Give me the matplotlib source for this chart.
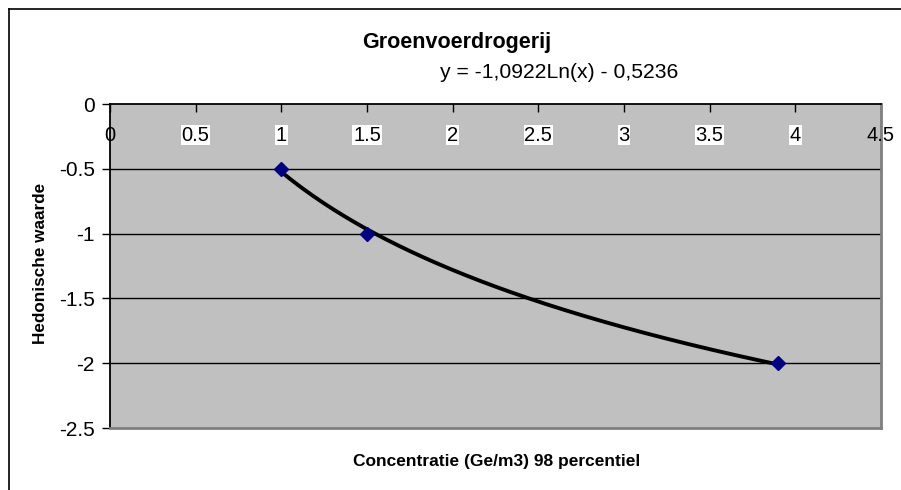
import numpy as np
import matplotlib
matplotlib.use("Agg")
import matplotlib.pyplot as plt
from matplotlib.lines import Line2D

plt.rcParams['font.family'] = ['Liberation Sans', 'DejaVu Sans']

# Data
conc = [1.0, 1.5, 3.9]
hedonic = [-0.5, -1.0, -2.0]
x_ticks = [0, 0.5, 1, 1.5, 2, 2.5, 3, 3.5, 4, 4.5]
x_tick_labels = ['0', '0.5', '1', '1.5', '2', '2.5', '3', '3.5', '4', '4.5']
y_ticks = [0, -0.5, -1, -1.5, -2, -2.5]
y_tick_labels = ['0', '-0.5', '-1', '-1.5', '-2', '-2.5']
title = 'Groenvoerdrogerij'
equation = 'y = -1,0922Ln(x) - 0,5236'
xlabel = 'Concentratie (Ge/m3) 98 percentiel'
ylabel = 'Hedonische waarde'

W, H = 901, 490
fig = plt.figure(figsize=(W / 100, H / 100), dpi=100)
fig.patch.set_facecolor('white')

# outer chart border
fig.add_artist(Line2D([8.5 / W, 8.5 / W], [0, 1 - 9.5 / H], color='black', lw=1.2))
fig.add_artist(Line2D([8.5 / W, 1], [1 - 9.5 / H, 1 - 9.5 / H], color='black', lw=1.2))

ax = fig.add_axes([110 / W, 1 - 428 / H, (881 - 110) / W, (428 - 104) / H])
ax.set_facecolor('#C0C0C0')
ax.set_xlim(0, 4.5)
ax.set_ylim(-2.5, 0)

# gridlines
for yv in y_ticks[1:-1]:
    ax.axhline(yv, color='black', lw=1.0, zorder=1)

# trendline (logarithmic fit from data)
coef = np.polyfit(np.log(conc), hedonic, 1)
xs = np.linspace(min(conc), max(conc), 200)
ax.plot(xs, coef[0] * np.log(xs) + coef[1], color='black', lw=2.8, zorder=3,
        solid_capstyle='butt')
ax.plot(conc, hedonic, linestyle='none', marker='D', markersize=7.5,
        color='#000080', zorder=4)

# spines
ax.spines['top'].set_color('black')
ax.spines['top'].set_linewidth(1.3)
ax.spines['left'].set_color('black')
ax.spines['left'].set_linewidth(1.3)
ax.spines['right'].set_color('#808080')
ax.spines['right'].set_linewidth(2)
ax.spines['bottom'].set_color('#808080')
ax.spines['bottom'].set_linewidth(2)

ax.set_yticks(y_ticks)
ax.set_yticklabels(y_tick_labels, fontsize=15)
ax.tick_params(axis='y', direction='out', length=5.5, width=1, pad=5.5)

ax.set_xticks(x_ticks)
ax.tick_params(axis='x', top=True, bottom=False, labeltop=False, labelbottom=False,
               direction='in', length=6, width=1)
for xv, lab in zip(x_ticks, x_tick_labels):
    ax.text(xv, -0.24, lab, ha='center', va='center', fontsize=14.5,
            zorder=5,
            bbox=dict(facecolor='white', edgecolor='none', pad=0.6) if xv not in (0, 4.5) else None)

fig.text(457 / W, 1 - 48 / H, title, ha='center', va='baseline',
         fontsize=15.5, fontweight='bold')
fig.text(559 / W, 1 - 77.5 / H, equation, ha='center', va='baseline', fontsize=15.2)
fig.text(497 / W, 1 - 466 / H, xlabel, ha='center', va='baseline',
         fontsize=12.5, fontweight='bold')
fig.text(41 / W, 1 - 263 / H, ylabel, ha='center', va='center',
         fontsize=12.3, fontweight='bold', rotation=90)

fig.savefig('out.png', dpi=100)
